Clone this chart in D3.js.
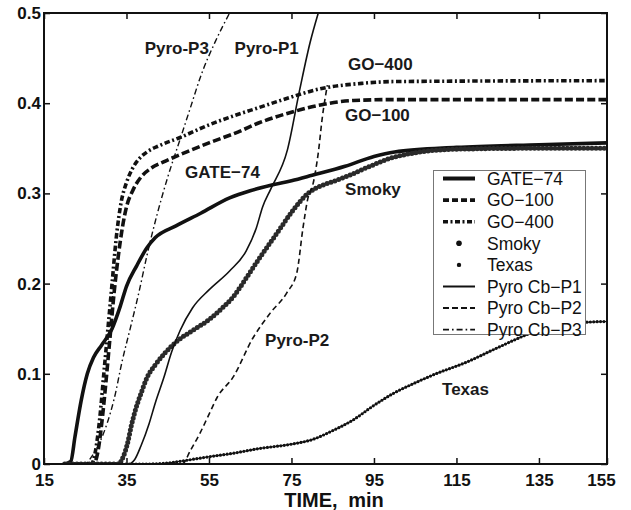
<!DOCTYPE html>
<html>
<head>
<meta charset="utf-8">
<script src="https://cdn.jsdelivr.net/npm/d3@7"></script>
<style>
  html, body { margin: 0; padding: 0; background: #fff; }
  svg { display: block; font-family: "Liberation Sans", Arial, Helvetica, sans-serif; }
</style>
</head>
<body>
<svg id="chart" width="631" height="510"></svg>
<script>
// ---- data: [time (min), value] ----
const gate74 = [[20,0],[21.5,0.003],[22.5,0.03],[24,0.07],[25.5,0.1],[27,0.118],[29,0.132],[31.5,0.15],[33.5,0.175],[35,0.197],[37.5,0.22],[40,0.24],[42,0.251],[47,0.264],[53,0.278],[60,0.295],[65,0.303],[70,0.309],[75,0.314],[80,0.32],[88,0.33],[95,0.341],[100,0.346],[115,0.351],[135,0.354],[151.5,0.356]];
const go100 = [[20,0],[27,0],[28,0.012],[29,0.045],[30,0.09],[31,0.14],[32,0.19],[33,0.23],[34,0.262],[35,0.285],[36.5,0.303],[38.5,0.318],[41,0.328],[44,0.335],[48,0.343],[55,0.356],[62,0.368],[67,0.378],[75,0.39],[82,0.398],[90,0.403],[100,0.404],[151.5,0.404]];
const go400 = [[20,0],[26.5,0],[27.5,0.015],[28.5,0.05],[29.5,0.1],[30.5,0.15],[31.5,0.2],[32.5,0.25],[33.7,0.29],[35,0.312],[36.5,0.328],[38,0.338],[40,0.346],[43,0.353],[48,0.362],[55,0.376],[61,0.386],[67,0.395],[73,0.404],[82,0.416],[92,0.422],[100,0.424],[151.5,0.425]];
const smoky = [[20,0],[33,0],[34.2,0.008],[35.2,0.022],[36.2,0.043],[37.3,0.062],[38.5,0.078],[40,0.096],[42,0.11],[44.3,0.123],[47.5,0.137],[51,0.148],[55,0.16],[58,0.172],[61,0.186],[64,0.206],[67.5,0.23],[71.5,0.256],[75.5,0.282],[79,0.3],[81,0.306],[85,0.313],[89,0.32],[94,0.33],[99,0.339],[105,0.345],[115,0.349],[135,0.35],[151.5,0.35]];
const texas = [[20,0],[40,0],[45,0.001],[48,0.003],[55,0.008],[61,0.012],[67,0.017],[75,0.022],[80,0.027],[85,0.037],[90,0.049],[95,0.065],[100,0.079],[105,0.09],[110,0.1],[117.5,0.113],[125,0.129],[133,0.145],[138,0.152],[146,0.157],[151.5,0.158]];
const pyroP1 = [[20,0],[35.5,0],[37,0.005],[38.5,0.02],[40.5,0.045],[42,0.068],[44,0.095],[46,0.125],[48,0.148],[51,0.173],[55,0.193],[60,0.214],[64,0.236],[66.5,0.262],[68,0.285],[70,0.305],[74,0.348],[77,0.415],[79.5,0.467],[81.5,0.5]];
const pyroP2 = [[20,0],[48.5,0],[50.5,0.015],[52.8,0.034],[55,0.055],[57,0.074],[60.8,0.096],[65.7,0.14],[69.8,0.167],[73.9,0.19],[76.3,0.212],[77.8,0.262],[79,0.295],[80.2,0.31],[81.5,0.345],[82.5,0.385],[83.7,0.42]];
const pyroP3 = [[20,0],[25,0],[26.5,0.008],[28.5,0.024],[30.3,0.045],[32,0.072],[34,0.115],[36,0.152],[38,0.19],[40,0.232],[42.5,0.278],[45,0.318],[48,0.36],[50.5,0.395],[53,0.43],[56.5,0.468],[60,0.5]];

const xTicks = [15, 35, 55, 75, 95, 115, 135, 151.5];
const xTickLabels = ["15", "35", "55", "75", "95", "115", "135", "155"];
const yTicks = [0, 0.1, 0.2, 0.3, 0.4, 0.5];
const yTickLabels = ["0", "0.1", "0.2", "0.3", "0.4", "0.5"];

const seriesNames = ["GATE\u221274", "GO\u2212100", "GO\u2212400", "Smoky", "Texas", "Pyro Cb\u2212P1", "Pyro Cb\u2212P2", "Pyro Cb\u2212P3"];

// annotations: text, time, value (data coords of text start / baseline)
const annoText = ["Pyro-P3", "Pyro-P1", "GO\u2212400", "GO\u2212100", "GATE\u221274", "Smoky", "Pyro-P2", "Texas"];
const annoT = [39.4, 61.2, 88.7, 88.0, 49.2, 88.0, 68.6, 111.5];
const annoV = [0.455, 0.455, 0.437, 0.380, 0.317, 0.298, 0.131, 0.077];

// ---- drawing ----
const W = 631, H = 510;
const margin = {left: 44, right: 24, top: 13, bottom: 46};
const svg = d3.select("#chart");
const x = d3.scaleLinear().domain([15, 151.5]).range([margin.left, W - margin.right]);
const y = d3.scaleLinear().domain([0, 0.5]).range([H - margin.bottom, margin.top]);

svg.append("defs").append("clipPath").attr("id", "plotclip")
  .append("rect").attr("x", x(15)).attr("y", y(0.5))
  .attr("width", x(151.5) - x(15)).attr("height", y(0) - y(0.5));

const ink = "#111";
const styles = [
  {data: gate74, width: 3.6, dash: null},
  {data: go100, width: 3.6, dash: "8,3.2"},
  {data: go400, width: 3.6, dash: "5.5,2.6,2,2.6"},
  {data: smoky, width: 5, dash: "0,4.1", cap: "round", color: "#2a2a2a"},
  {data: texas, width: 3.2, dash: "0,3.4", cap: "round", under: true},
  {data: pyroP1, width: 1.6, dash: null},
  {data: pyroP2, width: 1.6, dash: "5.5,3.5"},
  {data: pyroP3, width: 1.4, dash: "6,3,1.6,3"}
];

const line = d3.line().x(d => x(d[0])).y(d => y(d[1])).curve(d3.curveMonotoneX);
const plot = svg.append("g").attr("clip-path", "url(#plotclip)");

styles.forEach(s => {
  if (s.under) {
    plot.append("path").attr("d", line(s.data)).attr("fill", "none")
      .attr("stroke", ink).attr("stroke-width", 1.1);
  }
  const p = plot.append("path").attr("d", line(s.data)).attr("fill", "none")
    .attr("stroke", s.color || ink).attr("stroke-width", s.width)
    .attr("stroke-linejoin", "round")
    .attr("stroke-linecap", s.cap || "butt");
  if (s.dash) p.attr("stroke-dasharray", s.dash);
});

// axes (MATLAB style inward ticks)
const tickFont = "bold 17px 'Liberation Sans', Arial, sans-serif";
const xb = svg.append("g").attr("transform", `translate(0,${y(0)})`)
  .call(d3.axisBottom(x).tickValues(xTicks).tickSize(-6).tickPadding(10)
    .tickFormat((d, i) => xTickLabels[i]));
xb.select(".domain").remove();
xb.selectAll("text").style("font", tickFont).attr("fill", ink);
xb.selectAll(".tick").filter((d, i) => i === xTicks.length - 1).select("text").attr("dx", -6);
xb.selectAll("line").attr("stroke", ink).attr("stroke-width", 1.5);

const xt = svg.append("g").attr("transform", `translate(0,${y(0.5)})`)
  .call(d3.axisTop(x).tickValues(xTicks.slice(0, -1)).tickSize(-6).tickFormat(""));
xt.select(".domain").remove();
xt.selectAll("line").attr("stroke", ink).attr("stroke-width", 1.5);

const yl = svg.append("g").attr("transform", `translate(${x(15)},0)`)
  .call(d3.axisLeft(y).tickValues(yTicks).tickSize(-6).tickPadding(3)
    .tickFormat((d, i) => yTickLabels[i]));
yl.select(".domain").remove();
yl.selectAll("text").style("font", tickFont).attr("fill", ink);
yl.selectAll("line").attr("stroke", ink).attr("stroke-width", 1.5);

const yr = svg.append("g").attr("transform", `translate(${x(151.5)},0)`)
  .call(d3.axisRight(y).tickValues(yTicks).tickSize(-6).tickFormat(""));
yr.select(".domain").remove();
yr.selectAll("line").attr("stroke", ink).attr("stroke-width", 1.5);

// frame
svg.append("rect").attr("x", x(15)).attr("y", y(0.5))
  .attr("width", x(151.5) - x(15)).attr("height", y(0) - y(0.5))
  .attr("fill", "none").attr("stroke", ink).attr("stroke-width", 2);

// axis title
svg.append("text").attr("x", 334).attr("y", 507).attr("text-anchor", "middle")
  .style("font", "bold 20px 'Liberation Sans', Arial, sans-serif")
  .attr("word-spacing", 5).attr("fill", ink).text("TIME, min");

// annotations
annoText.forEach((t, i) => {
  svg.append("text").attr("x", x(annoT[i])).attr("y", y(annoV[i]))
    .style("font", "bold 17px 'Liberation Sans', Arial, sans-serif")
    .attr("fill", "#1a1a1a").text(t);
});

// legend
const lg = svg.append("g");
lg.append("rect").attr("x", 433.5).attr("y", 170.5).attr("width", 152).attr("height", 164)
  .attr("fill", "#fff").attr("stroke", "#777").attr("stroke-width", 1);
const legW = [4, 3.6, 3.6, 0, 0, 2, 2, 1.8];
const legDash = [null, "6,3", "5,2.5,2,2.5", null, null, null, "6,3", "6,3,1.6,3"];
seriesNames.forEach((nm, i) => {
  const yy = 178.5 + i * 21.6;
  if (i === 3 || i === 4) {
    lg.append("circle").attr("cx", 459).attr("cy", yy).attr("r", i === 3 ? 2.8 : 2.2).attr("fill", ink);
  } else {
    const l = lg.append("line").attr("x1", 443).attr("x2", 475).attr("y1", yy).attr("y2", yy)
      .attr("stroke", ink).attr("stroke-width", legW[i]);
    if (legDash[i]) l.attr("stroke-dasharray", legDash[i]);
  }
  lg.append("text").attr("x", 487).attr("y", yy).attr("dy", "0.36em")
    .style("font", "17.5px 'Liberation Sans', Arial, sans-serif").attr("fill", ink).text(nm);
});
</script>
</body>
</html>
